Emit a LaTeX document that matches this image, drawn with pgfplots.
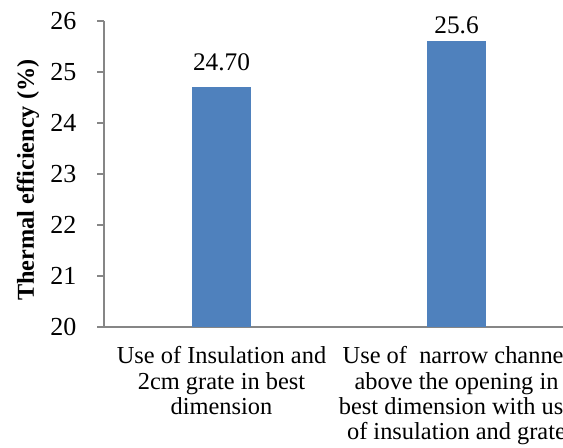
\documentclass[border=0pt]{standalone}
\usepackage{pgfplots}
\pgfplotsset{compat=1.18}
\usepackage{fontspec}
\setmainfont{Liberation Serif}
\definecolor{barblue}{HTML}{4F81BD}
\definecolor{axgray}{HTML}{868686}
\begin{document}
\begin{tikzpicture}
\path[use as bounding box] (0pt,0pt) rectangle (422.25pt,336pt);
\clip (0pt,0pt) rectangle (422.25pt,336pt);
\begin{axis}[
  at={(78pt,90.75pt)}, anchor=south west,
  scale only axis, width=352.5pt, height=229.5pt,
  xmin=-0.5, xmax=1.5, ymin=20, ymax=26,
  axis x line=bottom, axis y line=left,
  axis line style={axgray, line width=1pt, -},
  ytick={20,21,22,23,24,25,26},
  xtick={0,1},
  xticklabels={{Use of Insulation and\\2cm grate in best\\dimension},{Use of\ \ narrow channel\\above the opening in\\best dimension with use\\of insulation and grate}},
  tick align=outside, major tick length=5.25pt,
  ytick style={axgray, line width=1pt},
  xtick style={draw=none},
  /pgf/number format/assume math mode=true,
  yticklabel style={font=\fontsize{19.5}{22}\selectfont, anchor=east, xshift=-12pt},
  xticklabel style={font=\fontsize{18.3}{18.9}\selectfont, align=center, anchor=north, yshift=-6pt},
  ylabel={Thermal efficiency (\%)},
  ylabel style={font=\fontsize{18.2}{20}\selectfont\bfseries, at={(axis description cs:-0.162,0.480)}, anchor=center},
  ybar, bar width=44.25pt,
]
\addplot[fill=barblue, draw=none, bar shift=0pt,
  nodes near coords={24.70},
  nodes near coords style={font=\fontsize{19}{22}\selectfont, anchor=center, yshift=19.1pt}]
  coordinates {(0,24.70)};
\addplot[fill=barblue, draw=none, bar shift=0pt,
  nodes near coords={25.6},
  nodes near coords style={font=\fontsize{19}{22}\selectfont, anchor=center, yshift=11.8pt}]
  coordinates {(1,25.6)};
\end{axis}
\end{tikzpicture}
\end{document}
